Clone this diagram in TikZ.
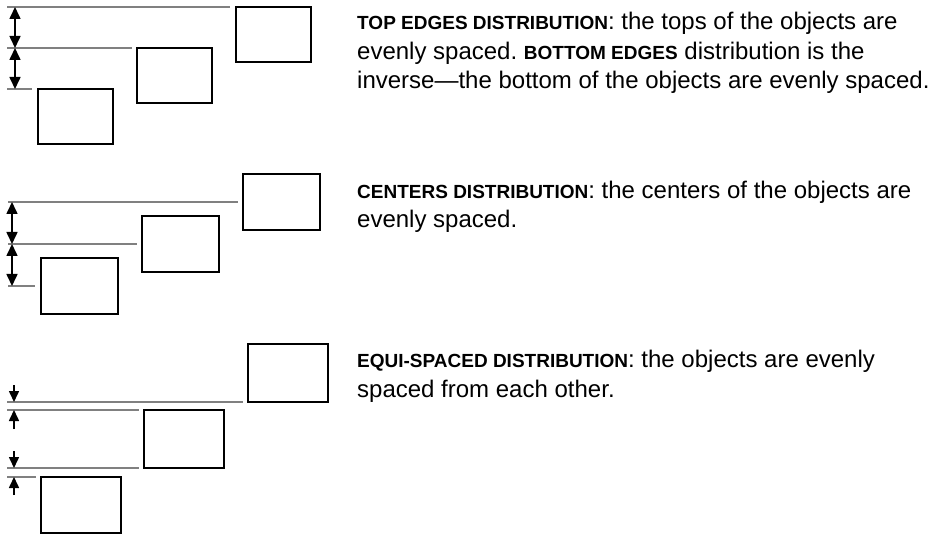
\documentclass[tikz,border=0pt]{standalone}
\usepackage{fontspec}
\setmainfont{Liberation Sans}
\usetikzlibrary{arrows.meta}
\frenchspacing
\tikzset{
  obj/.style={draw=black, line width=2.9pt, fill=white, inner sep=0pt, outer sep=0pt},
  guide/.style={draw=black!50, line width=1.3pt},
  dim/.style={line width=1.6pt, {Triangle[length=12pt,width=11pt]}-{Triangle[length=12pt,width=11pt]}},
  dimin/.style={line width=1.6pt, -{Triangle[length=11pt,width=10pt]}},
  desc/.style={anchor=base west, inner sep=0pt, align=left, font=\fontsize{24}{29.5}\selectfont},
}
\newcommand{\hd}[1]{{\fontsize{19}{19}\selectfont\bfseries #1}}
\begin{document}
\begin{tikzpicture}[x=1pt,y=-1pt]
\useasboundingbox (0,0) rectangle (931,534);
% ---- top edges panel
\node[obj, minimum width=75pt, minimum height=55pt] (a3) at (273.5,34.5) {};
\node[obj, minimum width=75pt, minimum height=55pt] (a2) at (174.5,75.5) {};
\node[obj, minimum width=75pt, minimum height=55pt] (a1) at (75.5,116.5) {};
\coordinate (la3) at (7,7);
\coordinate (la2) at (7,48);
\coordinate (la1) at (7,89);
\draw[guide] (la3) -- ([xshift=-6pt]a3.north west);
\draw[guide] (la2) -- ([xshift=-5pt]a2.north west);
\draw[guide] (la1) -- ([xshift=-6pt]a1.north west);
\coordinate (da3) at (15,7);
\coordinate (da2) at (15,48);
\coordinate (da1) at (15,89);
\draw[dim] (da3) -- (da2);
\draw[dim] (da2) -- (da1);
% ---- centers panel
\node[obj, minimum width=77pt, minimum height=56pt] (b3) at (281.5,202) {};
\node[obj, minimum width=77pt, minimum height=56pt] (b2) at (180.5,244) {};
\node[obj, minimum width=77pt, minimum height=56pt] (b1) at (79.5,286) {};
\coordinate (lb3) at (8,202);
\coordinate (lb2) at (8,244);
\coordinate (lb1) at (8,286);
\draw[guide] (lb3) -- ([xshift=-5pt]b3.west);
\draw[guide] (lb2) -- ([xshift=-5pt]b2.west);
\draw[guide] (lb1) -- ([xshift=-6pt]b1.west);
\coordinate (db3) at (12,202);
\coordinate (db2) at (12,244);
\coordinate (db1) at (12,286);
\draw[dim] (db3) -- (db2);
\draw[dim] (db2) -- (db1);
% ---- equi-spaced panel
\node[obj, minimum width=80pt, minimum height=58pt] (c3) at (288,373) {};
\node[obj, minimum width=80pt, minimum height=58pt] (c2) at (184,439) {};
\node[obj, minimum width=80pt, minimum height=56pt] (c1) at (81,505) {};
\coordinate (lc1) at (7,402);
\coordinate (lc2) at (7,410);
\coordinate (lc3) at (7,468);
\coordinate (lc4) at (7,477);
\draw[guide] (lc1) -- ([xshift=-5pt]c3.south west);
\draw[guide] (lc2) -- ([xshift=-5pt]c2.north west);
\draw[guide] (lc3) -- ([xshift=-5pt]c2.south west);
\draw[guide] (lc4) -- ([xshift=-5pt]c1.north west);
\coordinate (e1s) at (14,385);
\coordinate (e1t) at (14,402);
\coordinate (e2s) at (14,429);
\coordinate (e2t) at (14,410);
\coordinate (e3s) at (14,451);
\coordinate (e3t) at (14,468);
\coordinate (e4s) at (14,495);
\coordinate (e4t) at (14,477);
\draw[dimin] (e1s) -- (e1t);
\draw[dimin] (e2s) -- (e2t);
\draw[dimin] (e3s) -- (e3t);
\draw[dimin] (e4s) -- (e4t);
% ---- descriptions
\node[desc] (ta) at (357,89) {\hd{TOP EDGES DISTRIBUTION}: the tops of the objects are\\
evenly spaced. \hd{BOTTOM EDGES} distribution is the\\
inverse—the bottom of the objects are evenly spaced.};
\node[desc] (tb) at (357,228) {\hd{CENTERS DISTRIBUTION}: the centers of the objects are\\
evenly spaced.};
\node[desc] (tc) at (357,397) {\hd{EQUI-SPACED DISTRIBUTION}: the objects are evenly\\
spaced from each other.};
\end{tikzpicture}
\end{document}
